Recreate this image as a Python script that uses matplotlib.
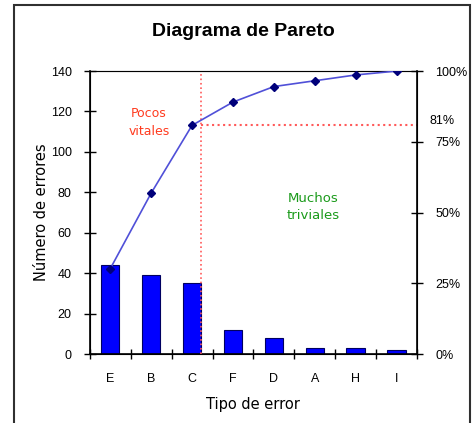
#!/usr/bin/env python3
# -*- coding: utf-8 -*-

"""
Pareto chart - error types
"""

import numpy as np
import matplotlib.pyplot as plt
from matplotlib.patches import Rectangle

# data
categories = ['E', 'B', 'C', 'F', 'D', 'A', 'H', 'I']
errors = [44, 39, 35, 12, 8, 3, 3, 2]
cut_pct = 81   # "pocos vitales" limit
pct_ticks = [0, 25, 50, 75, 100]

plt.rcParams['font.family'] = ['Liberation Sans', 'DejaVu Sans']
wide = ['DejaVu Sans']   # wider face for the axis titles and notes

total = sum(errors)
cum_pct = np.cumsum(errors) / total * 100
x = np.arange(len(categories))
bar_w = 0.45

fig = plt.figure(figsize=(4.75, 4.23), dpi=100)
ax = fig.add_axes([0.189, 0.163, 0.689, 0.669])

ax.bar(x, errors, width=bar_w, color='#0000ff', edgecolor='#000060', linewidth=0.8, zorder=2)
ax.set_xlim(-0.5, len(categories) - 0.5)
ax.set_ylim(0, 140)
ax.set_yticks(range(0, 141, 20))
ax.set_xticks(x)
ax.set_xticklabels(categories)
ax.set_xticks(np.arange(-0.5, len(categories)), minor=True)
ax.tick_params(axis='x', which='major', length=0, pad=14, labelsize=9)
ax.tick_params(axis='x', which='minor', direction='inout', length=7, width=1)
ax.tick_params(axis='y', direction='inout', length=8, width=1, labelsize=9, pad=9)
ax.set_xlabel('Tipo de error', fontsize=10.5, labelpad=8, family=wide)
ax.set_ylabel('Número de errores', fontsize=10.5, labelpad=1, family=wide)
for s in ['left', 'bottom']:
    ax.spines[s].set_linewidth(1.2)
ax.spines['top'].set_color('#808080')

# cumulative percentage on the right axis
ax2 = ax.twinx()
ax2.set_ylim(0, 100)
ax2.set_yticks(pct_ticks)
ax2.set_yticklabels([str(p) + '%' for p in pct_ticks])
ax2.tick_params(axis='y', direction='inout', length=8, width=1, labelsize=9, pad=9)
ax2.spines['right'].set_linewidth(1.2)
ax2.plot(x, cum_pct, color='#5050d8', linewidth=1.2, marker='D', markersize=4,
         markerfacecolor='#00007a', markeredgecolor='#00007a', zorder=3)

# vital few / trivial many separation
cut_x = 2 + bar_w / 2
ax2.axvline(cut_x, color='#ff5a5a', linestyle=':', linewidth=1.2, zorder=1)
ax2.plot([cut_x, len(categories) - 0.5], [cut_pct, cut_pct], color='#ff5a5a',
         linestyle=':', linewidth=1.5, zorder=1)
ax2.text(1.038, cut_pct + 1.5, str(cut_pct) + '%', transform=ax2.get_yaxis_transform(),
         fontsize=9, va='center', ha='left')

ax2.text(0.95, 82, 'Pocos\nvitales', color='#ff3b1f', fontsize=9, ha='center', va='center',
         linespacing=1.5, family=wide)
ax2.text(4.95, 52, 'Muchos\ntriviales', color='#1a9a1a', fontsize=9.5, ha='center',
         va='center', linespacing=1.4, family=wide)

fig.text(0.512, 0.925, 'Diagrama de Pareto', fontsize=14, fontweight='bold',
         ha='center', va='center')

# outer chart frame
fig.patches.append(Rectangle((14 / 475, -0.02), 456 / 475, 1.02 - 5 / 423,
                             transform=fig.transFigure, fill=False,
                             edgecolor='#303030', linewidth=1.5))

plt.savefig('out.png')
